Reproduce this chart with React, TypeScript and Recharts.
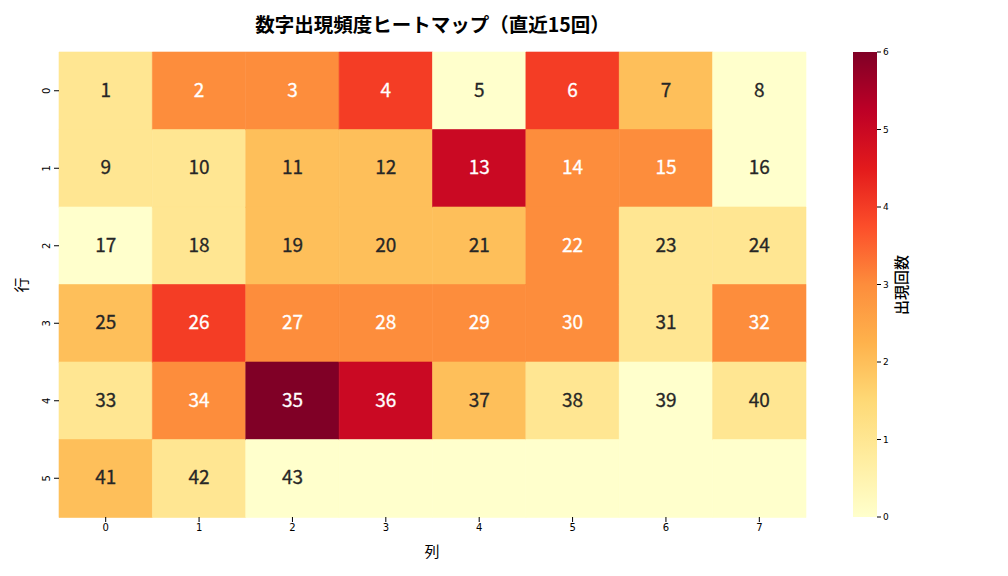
import { Bar, BarChart, Cell, LabelList, XAxis, YAxis } from "recharts"

const rowLabels = ["0", "1", "2", "3", "4", "5"]
const colLabels = ["0", "1", "2", "3", "4", "5", "6", "7"]
const colTicks = [0.5, 1.5, 2.5, 3.5, 4.5, 5.5, 6.5, 7.5]

// number shown in each cell (null = empty cell)
const cellNumbers: (number | null)[][] = [
  [1, 2, 3, 4, 5, 6, 7, 8],
  [9, 10, 11, 12, 13, 14, 15, 16],
  [17, 18, 19, 20, 21, 22, 23, 24],
  [25, 26, 27, 28, 29, 30, 31, 32],
  [33, 34, 35, 36, 37, 38, 39, 40],
  [41, 42, 43, null, null, null, null, null],
]

// appearance counts
const counts: number[][] = [
  [1, 3, 3, 4, 0, 4, 2, 0],
  [1, 1, 2, 2, 5, 3, 3, 0],
  [0, 1, 2, 2, 2, 3, 1, 1],
  [2, 4, 3, 3, 3, 3, 1, 3],
  [1, 3, 6, 5, 2, 1, 0, 1],
  [2, 1, 0, 0, 0, 0, 0, 0],
]

const colorbarTicks = [0, 1, 2, 3, 4, 5, 6]
const countMax = 6

const YL_OR_RD = [
  "#ffffcc", "#ffeda0", "#fed976", "#feb24c", "#fd8d3c",
  "#fc4e2a", "#e31a1c", "#bd0026", "#800026",
]

const FONT = "'Noto Sans CJK JP', 'Noto Sans', sans-serif"
const TICK_FONT = "'DejaVu Sans', sans-serif"

function hexToRgb(hex: string): number[] {
  const n = parseInt(hex.slice(1), 16)
  return [(n >> 16) & 255, (n >> 8) & 255, n & 255]
}

function countColor(value: number): string {
  const t = Math.min(Math.max(value / countMax, 0), 1) * (YL_OR_RD.length - 1)
  const i = Math.min(Math.floor(t), YL_OR_RD.length - 2)
  const f = t - i
  const a = hexToRgb(YL_OR_RD[i])
  const b = hexToRgb(YL_OR_RD[i + 1])
  const c = a.map((v, k) => Math.round(v + (b[k] - v) * f))
  return `rgb(${c[0]},${c[1]},${c[2]})`
}

const gridData = rowLabels.map((row) => {
  const entry: Record<string, string | number> = { row }
  colLabels.forEach((_, j) => {
    entry[`c${j}`] = 1
  })
  return entry
})

const colorbarData = [{ name: "cbar", value: countMax }]

function RowTick(props: any) {
  const { x, y, payload } = props
  return (
    <text
      x={x - 2}
      y={y}
      transform={`rotate(-90 ${x - 2} ${y})`}
      textAnchor="middle"
      fontSize={10}
      fontFamily={TICK_FONT}
      fill="#000"
    >
      {payload.value}
    </text>
  )
}

function makeCellLabel(col: number) {
  return function CellLabel(props: any) {
    const { x, y, width, height, index } = props
    const num = cellNumbers[index]?.[col]
    if (num === null || num === undefined) {
      return null
    }
    const count = counts[index][col]
    return (
      <text
        x={x + width / 2}
        y={y + height / 2 - 3}
        textAnchor="middle"
        dominantBaseline="central"
        fontSize={19}
        fontFamily={FONT}
        stroke={count >= 3 ? "#ffffff" : "#262626"}
        strokeWidth={0.3}
        fill={count >= 3 ? "#ffffff" : "#262626"}
      >
        {num}
      </text>
    )
  }
}

export default function App() {
  return (
    <div style={{ position: "relative", width: 1008, height: 576, background: "#fff" }}>
      <style>{`body{margin:0}`}</style>
      <div
        style={{
          position: "absolute",
          left: 0,
          width: 865,
          top: 9,
          textAlign: "center",
          fontFamily: FONT,
          fontWeight: 700,
          fontSize: 19.5,
          lineHeight: "30px",
          color: "#000",
        }}
      >
        数字出現頻度ヒートマップ（直近15回）
      </div>

      <div style={{ position: "absolute", left: 0, top: 0 }}>
        <BarChart
          width={1008}
          height={576}
          data={gridData}
          layout="vertical"
          barCategoryGap={0}
          barGap={0}
          margin={{ top: 52, right: 202, bottom: 29, left: 39 }}
        >
          <XAxis
            type="number"
            domain={[0, 8]}
            ticks={colTicks}
            tickFormatter={(v: number) => colLabels[Math.floor(v)]}
            axisLine={false}
            tickLine={{ stroke: "#000" }}
            tickSize={5}
            height={30}
            tick={{ fontSize: 10, fontFamily: TICK_FONT, fill: "#000" }}
            interval={0}
          />
          <YAxis
            type="category"
            dataKey="row"
            axisLine={false}
            tickLine={{ stroke: "#000" }}
            tickSize={5}
            width={20}
            tick={<RowTick />}
            interval={0}
          />
          {colLabels.map((_, j) => (
            <Bar key={j} dataKey={`c${j}`} stackId="grid" isAnimationActive={false}>
              {rowLabels.map((__, i) => (
                <Cell
                  key={i}
                  fill={countColor(counts[i][j])}
                  stroke={countColor(counts[i][j])}
                  strokeWidth={0.6}
                />
              ))}
              <LabelList dataKey={`c${j}`} content={makeCellLabel(j)} />
            </Bar>
          ))}
        </BarChart>
      </div>

      <div style={{ position: "absolute", left: 843, top: 0 }}>
        <BarChart
          width={165}
          height={576}
          data={colorbarData}
          barCategoryGap={0}
          margin={{ top: 52, right: 91, bottom: 59, left: 10 }}
        >
          <defs>
            <linearGradient id="cbarGrad" x1="0" y1="1" x2="0" y2="0">
              {YL_OR_RD.map((c, i) => (
                <stop key={i} offset={`${(i / (YL_OR_RD.length - 1)) * 100}%`} stopColor={c} />
              ))}
            </linearGradient>
          </defs>
          <XAxis dataKey="name" hide />
          <YAxis
            orientation="right"
            domain={[0, countMax]}
            ticks={colorbarTicks}
            axisLine={false}
            tickLine={{ stroke: "#000" }}
            tickSize={4}
            width={40}
            tick={{ fontSize: 9, fontFamily: TICK_FONT, fill: "#000" }}
            interval={0}
          />
          <Bar dataKey="value" fill="url(#cbarGrad)" isAnimationActive={false} />
        </BarChart>
      </div>

      <div
        style={{
          position: "absolute",
          left: 900,
          top: 285,
          transform: "translate(-50%, -50%) rotate(-90deg)",
          fontFamily: FONT,
          fontSize: 15,
          fontWeight: 500,
          color: "#000",
          whiteSpace: "nowrap",
        }}
      >
        出現回数
      </div>
      <div
        style={{
          position: "absolute",
          left: 20,
          top: 285,
          transform: "translate(-50%, -50%) rotate(-90deg)",
          fontFamily: FONT,
          fontSize: 15,
          color: "#000",
        }}
      >
        行
      </div>
      <div
        style={{
          position: "absolute",
          left: 432,
          top: 550,
          transform: "translate(-50%, -50%)",
          fontFamily: FONT,
          fontSize: 15,
          color: "#000",
        }}
      >
        列
      </div>
    </div>
  )
}
